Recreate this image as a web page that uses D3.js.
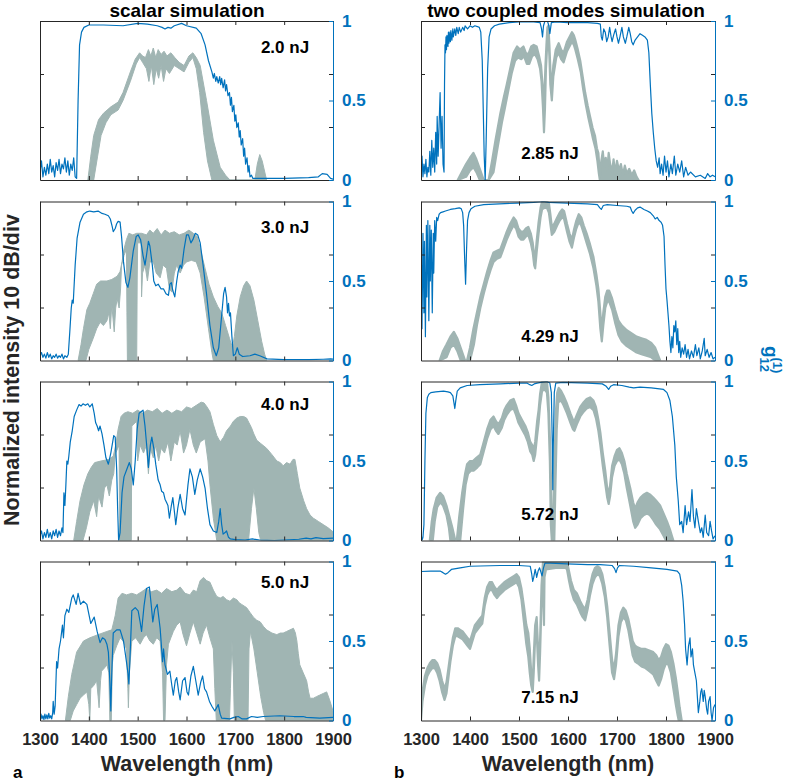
<!DOCTYPE html>
<html><head><meta charset="utf-8">
<script src="https://cdn.jsdelivr.net/npm/d3@7"></script>
<style>body{margin:0;background:#fff}svg{display:block}text{font-family:"Liberation Sans",Arial,sans-serif;font-weight:bold}</style>
</head><body><svg id="c" width="787" height="783"></svg>
<script>
// ---------- data (wavelength nm, normalized value 0..1) ----------
const xTicks = [1300,1400,1500,1600,1700,1800,1900];
const rightTicks = [0,0.5,1];
const leftTicks = [1/3,2/3];
const columnTitles = ["scalar simulation","two coupled modes simulation"];
const energyLabels = ["2.0 nJ","3.0 nJ","4.0 nJ","5.0 nJ","2.85 nJ","4.29 nJ","5.72 nJ","7.15 nJ"];

const sc20Blue = [[1300,0.05],[1303,0.12],[1306,0.02],[1309,0.08],[1312,0.03],[1315,0.1],[1318,0.04],[1321,0.13],[1324,0.05],[1327,0.09],[1330,0.02],[1333,0.11],[1336,0.06],[1339,0.13],[1342,0.04],[1345,0.1],[1348,0.07],[1351,0.14],[1354,0.05],[1357,0.12],[1360,0.03],[1363,0.1],[1366,0.06],[1369,0.14],[1372,0.02],[1375,0.01],[1378,0.5],[1381,0.85],[1385,0.93],[1390,0.96],[1400,0.975],[1430,0.975],[1470,0.97],[1500,0.985],[1520,0.98],[1540,0.97],[1550,0.96],[1556,0.95],[1562,0.96],[1568,0.955],[1575,0.97],[1590,0.985],[1600,0.97],[1620,0.955],[1630,0.92],[1638,0.85],[1645,0.75],[1652,0.68],[1655,0.64],[1657,0.67],[1660,0.62],[1662,0.65],[1665,0.61],[1668,0.65],[1670,0.6],[1672,0.64],[1675,0.58],[1678,0.63],[1680,0.56],[1682,0.6],[1685,0.53],[1688,0.55],[1690,0.47],[1692,0.52],[1694,0.43],[1697,0.47],[1699,0.37],[1701,0.41],[1703,0.33],[1706,0.36],[1708,0.27],[1710,0.31],[1712,0.22],[1715,0.26],[1717,0.15],[1719,0.2],[1721,0.1],[1724,0.14],[1726,0.05],[1728,0.09],[1730,0.02],[1733,0.03],[1736,0.01],[1760,0.01],[1800,0.01],[1850,0.015],[1870,0.02],[1878,0.04],[1888,0.035],[1895,0.01],[1900,0.005]];
const sc20Hi = [[1398,0],[1404,0.15],[1410,0.28],[1420,0.38],[1430,0.42],[1445,0.46],[1460,0.49],[1470,0.55],[1485,0.68],[1495,0.76],[1504,0.8],[1510,0.78],[1516,0.77],[1522,0.82],[1527,0.78],[1532,0.83],[1537,0.77],[1542,0.82],[1548,0.79],[1554,0.81],[1560,0.78],[1568,0.8],[1576,0.77],[1585,0.74],[1595,0.72],[1605,0.78],[1613,0.8],[1620,0.77],[1628,0.72],[1641,0.5],[1655,0.25],[1669,0.08],[1680,0.03],[1689,0],[1740,0],[1745,0.1],[1750,0.16],[1755,0.12],[1764,0]];
const sc20Lo = [[1398,0],[1410,0],[1418,0.15],[1425,0.28],[1435,0.36],[1445,0.41],[1460,0.44],[1470,0.5],[1485,0.62],[1497,0.73],[1504,0.77],[1510,0.74],[1518,0.7],[1523,0.62],[1528,0.72],[1533,0.6],[1538,0.7],[1543,0.64],[1548,0.72],[1553,0.62],[1558,0.7],[1565,0.67],[1575,0.72],[1585,0.7],[1595,0.68],[1605,0.74],[1613,0.77],[1620,0.7],[1627,0.55],[1635,0.3],[1643,0.12],[1652,0],[1764,0]];

const sc30Blue = [[1300,0.03],[1303,0.05],[1306,0.02],[1309,0.04],[1312,0.015],[1315,0.05],[1318,0.02],[1321,0.04],[1324,0.01],[1327,0.03],[1330,0.02],[1333,0.04],[1336,0.015],[1339,0.03],[1342,0.02],[1345,0.04],[1348,0.01],[1351,0.03],[1355,0.02],[1358,0.04],[1361,0.18],[1364,0.33],[1366,0.38],[1368,0.36],[1372,0.6],[1376,0.77],[1382,0.87],[1389,0.92],[1396,0.935],[1402,0.94],[1410,0.935],[1419,0.94],[1427,0.925],[1433,0.92],[1440,0.91],[1444,0.89],[1448,0.84],[1450,0.81],[1454,0.83],[1457,0.86],[1460,0.875],[1464,0.87],[1467,0.78],[1471,0.62],[1476,0.49],[1480,0.46],[1484,0.52],[1491,0.69],[1497,0.78],[1501,0.79],[1506,0.76],[1511,0.66],[1515,0.6],[1518,0.66],[1522,0.75],[1525,0.72],[1530,0.6],[1533,0.5],[1537,0.47],[1542,0.48],[1548,0.45],[1553,0.45],[1558,0.42],[1563,0.41],[1566,0.48],[1569,0.49],[1572,0.44],[1576,0.4],[1580,0.5],[1583,0.56],[1587,0.6],[1590,0.58],[1595,0.7],[1600,0.79],[1604,0.79],[1609,0.74],[1613,0.76],[1618,0.8],[1623,0.79],[1628,0.74],[1634,0.6],[1641,0.42],[1648,0.22],[1655,0.08],[1661,0.03],[1666,0.08],[1671,0.25],[1676,0.42],[1679,0.46],[1682,0.4],[1684,0.3],[1686,0.36],[1688,0.28],[1690,0.3],[1693,0.15],[1696,0.03],[1700,0.04],[1704,0.08],[1708,0.04],[1715,0.025],[1730,0.03],[1740,0.04],[1750,0.03],[1765,0.01],[1800,0.005],[1850,0.005],[1880,0.008],[1895,0.01],[1900,0.008]];
const sc30Hi = [[1378,0],[1384,0.1],[1389,0.2],[1396,0.32],[1402,0.36],[1409,0.42],[1416,0.48],[1424,0.5],[1437,0.5],[1447,0.51],[1458,0.53],[1464,0.56],[1468,0.62],[1472,0.7],[1477,0.76],[1482,0.8],[1490,0.79],[1498,0.8],[1508,0.8],[1518,0.79],[1525,0.82],[1532,0.8],[1540,0.83],[1548,0.79],[1556,0.82],[1565,0.8],[1575,0.81],[1585,0.79],[1595,0.8],[1605,0.82],[1614,0.8],[1622,0.78],[1630,0.68],[1638,0.58],[1646,0.48],[1655,0.4],[1664,0.34],[1672,0.3],[1680,0.22],[1688,0.14],[1694,0.08],[1698,0.15],[1703,0.28],[1710,0.4],[1717,0.47],[1723,0.5],[1730,0.47],[1738,0.38],[1746,0.25],[1754,0.12],[1760,0.04],[1764,0]];
const sc30Lo = [[1378,0],[1394,0],[1400,0.07],[1409,0.14],[1416,0.2],[1423,0.24],[1430,0.22],[1437,0.25],[1441,0.3],[1444,0.2],[1447,0.35],[1452,0.18],[1455,0.33],[1458,0.39],[1462,0.33],[1465,0.45],[1467,0.6],[1472,0.66],[1477,0.7],[1478,0.3],[1479,0],[1498,0],[1499,0.5],[1500,0.74],[1507,0.74],[1508,0.4],[1510,0.55],[1515,0.6],[1520,0.5],[1525,0.62],[1532,0.62],[1538,0.55],[1546,0.52],[1552,0.6],[1559,0.58],[1565,0.45],[1570,0.43],[1575,0.55],[1580,0.6],[1587,0.55],[1594,0.6],[1600,0.62],[1610,0.63],[1620,0.62],[1628,0.55],[1636,0.4],[1645,0.2],[1652,0.05],[1655,0],[1764,0]];

const sc40Blue = [[1300,0.03],[1303,0.06],[1306,0.01],[1309,0.05],[1312,0.02],[1315,0.07],[1318,0.02],[1321,0.05],[1324,0.01],[1327,0.06],[1330,0.03],[1333,0.07],[1336,0.02],[1339,0.06],[1342,0.03],[1345,0.08],[1347,0.05],[1349,0.3],[1351,0.22],[1353,0.35],[1355,0.5],[1357,0.48],[1359,0.53],[1362,0.62],[1366,0.69],[1370,0.78],[1375,0.82],[1380,0.855],[1384,0.845],[1388,0.86],[1393,0.85],[1398,0.86],[1402,0.84],[1407,0.86],[1411,0.8],[1414,0.74],[1417,0.72],[1420,0.69],[1423,0.72],[1427,0.67],[1431,0.6],[1435,0.52],[1440,0.48],[1445,0.55],[1451,0.66],[1454,0.65],[1457,0.45],[1459,0.2],[1461,0],[1464,0.05],[1468,0.3],[1472,0.4],[1478,0.45],[1483,0.49],[1487,0.45],[1491,0.35],[1495,0.5],[1499,0.7],[1503,0.8],[1507,0.81],[1511,0.82],[1515,0.72],[1519,0.58],[1522,0.46],[1526,0.6],[1529,0.65],[1533,0.58],[1537,0.48],[1542,0.38],[1546,0.35],[1549,0.31],[1553,0.3],[1556,0.26],[1559,0.24],[1562,0.22],[1565,0.14],[1569,0.22],[1572,0.27],[1576,0.16],[1578,0.1],[1582,0.2],[1587,0.29],[1592,0.2],[1597,0.16],[1603,0.35],[1607,0.45],[1612,0.4],[1617,0.29],[1622,0.38],[1628,0.45],[1633,0.4],[1638,0.33],[1643,0.2],[1648,0.1],[1655,0.06],[1662,0.05],[1666,0.12],[1669,0.2],[1672,0.1],[1675,0.04],[1679,0.05],[1682,0.06],[1686,0.02],[1690,0.01],[1700,0.005],[1720,0.003],[1735,0.01],[1750,0.002],[1780,0],[1830,0.008],[1845,0.015],[1855,0.01],[1865,0.018],[1880,0.012],[1900,0.015]];
const sc40Hi = [[1369,0],[1375,0.12],[1382,0.25],[1390,0.35],[1398,0.42],[1405,0.46],[1412,0.49],[1425,0.5],[1440,0.51],[1450,0.53],[1455,0.6],[1460,0.7],[1466,0.78],[1472,0.8],[1480,0.81],[1490,0.8],[1500,0.82],[1510,0.8],[1520,0.82],[1530,0.81],[1540,0.83],[1550,0.8],[1560,0.82],[1570,0.8],[1580,0.82],[1590,0.81],[1600,0.84],[1610,0.83],[1620,0.85],[1630,0.87],[1636,0.865],[1642,0.84],[1648,0.81],[1655,0.73],[1662,0.66],[1669,0.62],[1676,0.65],[1682,0.69],[1690,0.72],[1696,0.75],[1703,0.77],[1710,0.78],[1717,0.78],[1723,0.77],[1728,0.74],[1733,0.71],[1738,0.67],[1744,0.63],[1752,0.61],[1764,0.58],[1775,0.54],[1785,0.5],[1792,0.49],[1798,0.47],[1805,0.49],[1812,0.48],[1818,0.51],[1822,0.51],[1827,0.42],[1832,0.33],[1840,0.25],[1846,0.2],[1853,0.16],[1860,0.14],[1870,0.12],[1880,0.1],[1890,0.08],[1900,0.055]];
const sc40Lo = [[1369,0],[1388,0],[1395,0.08],[1402,0.18],[1410,0.25],[1416,0.15],[1420,0.28],[1427,0.21],[1432,0.33],[1437,0.35],[1442,0.28],[1447,0.38],[1451,0.42],[1453,0.5],[1455,0.55],[1462,0.6],[1463,0],[1487,0],[1488,0.72],[1498,0.75],[1500,0.5],[1505,0.6],[1512,0.55],[1518,0.6],[1522,0.42],[1526,0.58],[1532,0.52],[1537,0.6],[1543,0.5],[1548,0.58],[1555,0.55],[1562,0.62],[1568,0.5],[1575,0.62],[1581,0.6],[1587,0.69],[1594,0.55],[1600,0.6],[1607,0.7],[1614,0.6],[1620,0.55],[1628,0.62],[1638,0.64],[1644,0.5],[1648,0.35],[1655,0.14],[1662,0],[1727,0],[1733,0.2],[1738,0.33],[1743,0.2],[1748,0.05],[1752,0],[1900,0]];

const sc50Blue = [[1300,0.02],[1302,0.04],[1304,0.01],[1306,0.03],[1308,0.005],[1310,0.04],[1312,0.01],[1314,0.035],[1316,0.01],[1318,0.045],[1320,0.015],[1322,0.03],[1324,0.01],[1326,0.05],[1327,0.12],[1329,0.04],[1331,0.09],[1334,0.37],[1336,0.33],[1339,0.45],[1342,0.5],[1346,0.6],[1348,0.52],[1351,0.66],[1355,0.7],[1359,0.68],[1365,0.77],[1368,0.79],[1374,0.73],[1378,0.8],[1383,0.73],[1389,0.75],[1396,0.73],[1404,0.61],[1411,0.65],[1417,0.56],[1423,0.49],[1428,0.52],[1433,0.51],[1437,0.48],[1440,0.43],[1443,0.25],[1445,0.06],[1447,0.3],[1450,0.55],[1457,0.57],[1464,0.57],[1471,0.5],[1477,0.37],[1480,0.3],[1482,0.23],[1485,0.45],[1488,0.69],[1495,0.71],[1501,0.69],[1505,0.62],[1508,0.56],[1513,0.72],[1518,0.83],[1524,0.84],[1528,0.72],[1531,0.62],[1535,0.7],[1540,0.73],[1546,0.58],[1551,0.37],[1553,0.45],[1556,0.35],[1561,0.29],[1566,0.31],[1570,0.22],[1573,0.16],[1577,0.25],[1580,0.27],[1584,0.18],[1587,0.13],[1592,0.25],[1597,0.27],[1601,0.18],[1604,0.16],[1609,0.28],[1614,0.34],[1619,0.25],[1624,0.16],[1629,0.24],[1633,0.28],[1637,0.2],[1641,0.18],[1647,0.12],[1652,0.09],[1658,0.06],[1665,0.1],[1669,0.04],[1672,0.015],[1689,0.01],[1697,0.02],[1706,0.025],[1714,0.01],[1723,0.01],[1733,0.025],[1745,0.02],[1757,0.025],[1791,0.03],[1820,0.025],[1839,0.025],[1845,0.02],[1873,0.015],[1900,0.02]];
const sc50Hi = [[1352,0],[1358,0.15],[1365,0.29],[1375,0.43],[1389,0.5],[1402,0.52],[1419,0.54],[1437,0.56],[1447,0.57],[1451,0.62],[1454,0.66],[1460,0.77],[1468,0.8],[1477,0.79],[1488,0.8],[1498,0.79],[1508,0.81],[1518,0.83],[1528,0.81],[1539,0.82],[1549,0.8],[1559,0.83],[1570,0.81],[1580,0.82],[1587,0.84],[1597,0.8],[1607,0.79],[1614,0.82],[1621,0.81],[1628,0.88],[1635,0.9],[1641,0.88],[1648,0.87],[1655,0.82],[1662,0.78],[1669,0.77],[1675,0.78],[1682,0.76],[1689,0.75],[1696,0.77],[1703,0.76],[1708,0.74],[1713,0.73],[1718,0.72],[1723,0.71],[1730,0.68],[1737,0.65],[1744,0.63],[1751,0.62],[1758,0.59],[1764,0.57],[1775,0.55],[1785,0.54],[1792,0.55],[1798,0.55],[1805,0.56],[1812,0.57],[1819,0.58],[1823,0.55],[1826,0.5],[1829,0.42],[1832,0.35],[1839,0.3],[1846,0.25],[1850,0.18],[1853,0.14],[1860,0.14],[1866,0.15],[1873,0.16],[1880,0.17],[1887,0.18],[1893,0.13],[1900,0.06]];
const sc50Lo = [[1352,0],[1362,0],[1368,0.06],[1375,0.1],[1382,0.14],[1389,0.16],[1396,0.18],[1400,0.1],[1402,0],[1404,0.2],[1410,0.22],[1416,0.25],[1419,0.15],[1421,0.08],[1424,0.25],[1426,0.31],[1432,0.33],[1437,0.35],[1441,0.3],[1443,0],[1446,0],[1448,0.35],[1450,0.41],[1457,0.47],[1464,0.52],[1470,0.5],[1477,0.45],[1480,0.2],[1481,0.08],[1483,0.3],[1488,0.5],[1496,0.52],[1505,0.48],[1512,0.52],[1518,0.54],[1525,0.5],[1532,0.48],[1539,0.52],[1546,0.5],[1551,0.3],[1553,0],[1556,0],[1559,0.35],[1563,0.48],[1568,0.52],[1573,0.56],[1580,0.6],[1587,0.62],[1593,0.54],[1600,0.47],[1607,0.55],[1614,0.62],[1621,0.55],[1628,0.48],[1634,0.55],[1641,0.6],[1648,0.52],[1655,0.45],[1658,0.2],[1661,0],[1688,0],[1690,0.2],[1693,0.5],[1696,0.3],[1698,0],[1726,0],[1728,0.45],[1731,0.56],[1738,0.45],[1745,0.3],[1752,0.15],[1758,0.05],[1762,0],[1900,0]];

const cm285Blue = [[1300,0.05],[1302,0.15],[1304,0.02],[1306,0.1],[1308,0.04],[1310,0.13],[1312,0.02],[1314,0.08],[1316,0.05],[1318,0.18],[1320,0.03],[1322,0.25],[1324,0.08],[1326,0.2],[1328,0.05],[1330,0.3],[1332,0.1],[1333,0.4],[1335,0.15],[1337,0.35],[1339,0.55],[1341,0.2],[1343,0.4],[1345,0.1],[1347,0.05],[1348,0.6],[1349,0.85],[1350,0.8],[1351,0.9],[1352,0.82],[1353,0.91],[1355,0.84],[1356,0.93],[1357,0.86],[1359,0.93],[1360,0.87],[1361,0.94],[1363,0.88],[1365,0.95],[1366,0.9],[1369,0.95],[1371,0.91],[1373,0.96],[1376,0.92],[1378,0.96],[1381,0.93],[1385,0.96],[1388,0.94],[1390,0.97],[1395,0.95],[1400,0.97],[1405,0.96],[1410,0.97],[1415,0.965],[1419,0.96],[1422,0.93],[1425,0.75],[1427,0.45],[1429,0.15],[1431,0],[1433,0.25],[1436,0.7],[1439,0.9],[1443,0.95],[1450,0.97],[1460,0.98],[1480,0.99],[1500,0.995],[1530,0.995],[1543,0.99],[1546,0.95],[1548,0.9],[1550,0.97],[1553,1],[1558,1],[1561,0.97],[1563,0.92],[1566,0.99],[1575,0.995],[1600,0.99],[1640,0.99],[1660,0.985],[1666,0.98],[1668,0.9],[1670,0.88],[1673,0.95],[1676,0.93],[1679,0.87],[1682,0.9],[1685,0.96],[1688,0.9],[1690,0.87],[1693,0.91],[1697,0.95],[1700,0.9],[1703,0.86],[1706,0.9],[1710,0.96],[1713,0.9],[1717,0.86],[1720,0.9],[1724,0.96],[1727,0.92],[1730,0.87],[1733,0.85],[1737,0.88],[1742,0.9],[1747,0.92],[1752,0.91],[1757,0.9],[1762,0.88],[1765,0.8],[1768,0.6],[1771,0.42],[1774,0.3],[1777,0.2],[1780,0.12],[1783,0.08],[1786,0.14],[1788,0.04],[1791,0.1],[1794,0.03],[1797,0.15],[1800,0.05],[1803,0.12],[1806,0.02],[1810,0.1],[1813,0.04],[1817,0.15],[1820,0.03],[1824,0.1],[1828,0.05],[1832,0.12],[1836,0.02],[1840,0.08],[1845,0.03],[1850,0.05],[1860,0.02],[1870,0.03],[1880,0.01],[1885,0.04],[1890,0.02],[1895,0.03],[1900,0.02]];
const cm285Hi = [[1375,0],[1385,0.06],[1392,0.1],[1400,0.14],[1407,0.17],[1413,0.13],[1420,0.07],[1428,0],[1438,0],[1445,0.12],[1452,0.25],[1462,0.42],[1469,0.52],[1475,0.6],[1482,0.7],[1489,0.8],[1496,0.84],[1502,0.82],[1509,0.84],[1514,0.8],[1519,0.79],[1525,0.84],[1530,0.85],[1536,0.84],[1541,0.78],[1545,0.72],[1548,0.6],[1550,0.45],[1551,0.36],[1552,0.55],[1554,0.72],[1556,0.85],[1558,0.96],[1560,0.97],[1562,0.85],[1564,0.7],[1567,0.56],[1570,0.72],[1575,0.82],[1581,0.86],[1586,0.82],[1591,0.8],[1598,0.87],[1603,0.9],[1608,0.93],[1612,0.91],[1615,0.88],[1620,0.82],[1625,0.75],[1630,0.65],[1635,0.55],[1640,0.47],[1645,0.4],[1650,0.33],[1655,0.28],[1659,0.2],[1662,0.17],[1664,0.08],[1666,0.03],[1668,0.12],[1671,0.18],[1674,0.08],[1677,0.14],[1680,0.06],[1683,0.17],[1686,0.1],[1690,0.05],[1693,0.13],[1696,0.04],[1700,0.12],[1704,0.06],[1708,0.1],[1712,0.03],[1716,0.09],[1720,0.04],[1725,0.07],[1730,0.03],[1735,0.06],[1740,0.02],[1744,0]];
const cm285Lo = [[1375,0],[1392,0.02],[1400,0.06],[1407,0.08],[1413,0.05],[1420,0],[1438,0],[1448,0.05],[1455,0.18],[1465,0.36],[1471,0.45],[1478,0.56],[1485,0.67],[1492,0.75],[1498,0.77],[1505,0.76],[1510,0.78],[1516,0.73],[1521,0.73],[1527,0.78],[1533,0.79],[1538,0.76],[1543,0.7],[1546,0.62],[1549,0.45],[1551,0.3],[1553,0.45],[1555,0.7],[1558,0.88],[1560,0.9],[1562,0.78],[1564,0.6],[1567,0.5],[1570,0.65],[1576,0.77],[1581,0.8],[1586,0.76],[1591,0.74],[1598,0.81],[1603,0.84],[1608,0.87],[1612,0.85],[1615,0.82],[1620,0.76],[1626,0.68],[1631,0.57],[1636,0.48],[1641,0.4],[1646,0.33],[1651,0.26],[1656,0.2],[1660,0.12],[1663,0.04],[1665,0],[1744,0]];

const cm429Blue = [[1300,0.1],[1301,0.6],[1302,0.2],[1304,0.8],[1306,0.3],[1307,0.75],[1309,0.15],[1311,0.85],[1312,0.4],[1314,0.88],[1316,0.25],[1318,0.85],[1319,0.5],[1321,0.82],[1323,0.3],[1325,0.8],[1326,0.55],[1328,0.88],[1330,0.75],[1332,0.9],[1334,0.88],[1337,0.92],[1340,0.93],[1345,0.935],[1350,0.94],[1360,0.95],[1370,0.955],[1378,0.96],[1382,0.955],[1385,0.93],[1387,0.85],[1389,0.65],[1391,0.48],[1393,0.7],[1395,0.88],[1398,0.93],[1402,0.955],[1410,0.97],[1428,0.98],[1460,0.985],[1496,0.99],[1530,0.995],[1550,1],[1560,0.995],[1598,0.99],[1640,0.985],[1660,0.98],[1665,0.96],[1668,0.95],[1672,0.975],[1680,0.98],[1700,0.975],[1720,0.97],[1727,0.965],[1730,0.94],[1733,0.925],[1737,0.945],[1742,0.96],[1747,0.965],[1755,0.95],[1762,0.94],[1768,0.93],[1774,0.91],[1778,0.89],[1782,0.9],[1786,0.88],[1790,0.87],[1793,0.85],[1796,0.78],[1798,0.6],[1800,0.45],[1802,0.38],[1804,0.3],[1806,0.22],[1808,0.12],[1810,0.05],[1812,0.15],[1814,0.08],[1816,0.22],[1818,0.18],[1820,0.25],[1822,0.1],[1824,0.2],[1826,0.05],[1828,0.12],[1830,0.02],[1833,0.08],[1836,0.04],[1839,0.1],[1842,0.02],[1845,0.07],[1848,0.01],[1852,0.06],[1856,0.02],[1860,0.1],[1863,0.03],[1867,0.08],[1870,0.01],[1874,0.06],[1878,0.14],[1880,0.03],[1884,0.07],[1888,0.02],[1892,0.05],[1896,0.01],[1900,0.02]];
const cm429Hi = [[1338,0],[1345,0.06],[1352,0.1],[1360,0.15],[1367,0.18],[1374,0.14],[1381,0.08],[1390,0],[1394,0],[1400,0.08],[1407,0.2],[1414,0.3],[1421,0.4],[1428,0.48],[1435,0.56],[1442,0.63],[1448,0.68],[1455,0.69],[1462,0.7],[1468,0.75],[1475,0.81],[1482,0.86],[1489,0.9],[1494,0.88],[1499,0.83],[1504,0.81],[1509,0.81],[1514,0.83],[1519,0.84],[1524,0.8],[1528,0.74],[1531,0.66],[1533,0.64],[1536,0.75],[1540,0.87],[1544,0.96],[1547,1],[1552,1],[1557,1],[1561,0.99],[1564,0.92],[1567,0.84],[1572,0.86],[1578,0.9],[1583,0.93],[1588,0.95],[1592,0.94],[1598,0.86],[1603,0.8],[1608,0.76],[1612,0.82],[1617,0.88],[1622,0.92],[1627,0.9],[1632,0.85],[1638,0.8],[1645,0.73],[1652,0.65],[1658,0.54],[1662,0.45],[1666,0.3],[1669,0.18],[1672,0.3],[1676,0.4],[1680,0.44],[1684,0.44],[1690,0.39],[1696,0.32],[1703,0.25],[1710,0.22],[1720,0.19],[1730,0.17],[1740,0.15],[1750,0.14],[1760,0.13],[1770,0.11],[1778,0.08],[1783,0.04],[1788,0]];
const cm429Lo = [[1338,0],[1352,0.02],[1360,0.08],[1367,0.1],[1374,0.06],[1381,0],[1394,0],[1400,0],[1408,0.1],[1414,0.22],[1421,0.33],[1428,0.42],[1435,0.5],[1442,0.57],[1448,0.62],[1455,0.64],[1462,0.65],[1468,0.7],[1475,0.76],[1482,0.81],[1489,0.85],[1494,0.83],[1499,0.78],[1504,0.76],[1509,0.76],[1514,0.78],[1519,0.79],[1524,0.74],[1528,0.68],[1531,0.6],[1533,0.58],[1536,0.68],[1540,0.8],[1544,0.9],[1547,0.95],[1552,0.96],[1557,0.96],[1561,0.93],[1564,0.86],[1567,0.79],[1572,0.81],[1578,0.85],[1583,0.88],[1588,0.9],[1592,0.89],[1598,0.81],[1603,0.75],[1608,0.71],[1612,0.77],[1617,0.83],[1622,0.87],[1627,0.85],[1632,0.8],[1638,0.74],[1645,0.67],[1652,0.58],[1658,0.47],[1662,0.37],[1666,0.2],[1669,0.12],[1672,0.22],[1676,0.33],[1680,0.37],[1684,0.37],[1690,0.32],[1696,0.24],[1703,0.16],[1710,0.12],[1720,0.09],[1730,0.07],[1740,0.05],[1750,0.04],[1760,0.03],[1770,0.02],[1778,0],[1788,0]];

const cm572Blue = [[1300,0.05],[1302,0],[1304,0.02],[1306,0.1],[1308,0.5],[1310,0.8],[1313,0.9],[1316,0.92],[1320,0.93],[1330,0.935],[1346,0.94],[1355,0.935],[1360,0.93],[1365,0.91],[1367,0.87],[1369,0.83],[1371,0.88],[1374,0.94],[1380,0.96],[1394,0.975],[1420,0.98],[1462,0.985],[1500,0.99],[1516,0.99],[1522,0.98],[1526,0.975],[1531,0.985],[1537,0.99],[1545,0.995],[1557,1],[1563,0.99],[1566,0.93],[1568,0.6],[1569,0.32],[1570,0.6],[1572,0.93],[1575,0.99],[1590,0.995],[1640,0.99],[1670,0.985],[1678,0.97],[1683,0.95],[1687,0.97],[1693,0.98],[1710,0.975],[1725,0.965],[1734,0.96],[1747,0.965],[1770,0.96],[1795,0.95],[1802,0.93],[1808,0.88],[1813,0.78],[1818,0.6],[1821,0.4],[1825,0.25],[1828,0.1],[1832,0.12],[1835,0.05],[1839,0.22],[1842,0.1],[1846,0.18],[1849,0.12],[1853,0.32],[1856,0.15],[1859,0.08],[1862,0.2],[1866,0.12],[1870,0.05],[1873,0.08],[1876,0.02],[1880,0.16],[1883,0.05],[1887,0.03],[1890,0.12],[1893,0.06],[1896,0.01],[1900,0.03]];
const cm572Hi = [[1318,0],[1322,0.12],[1326,0.2],[1332,0.27],[1339,0.3],[1345,0.28],[1352,0.22],[1358,0.15],[1364,0.08],[1370,0],[1373,0],[1378,0.15],[1384,0.3],[1390,0.42],[1394,0.48],[1400,0.5],[1406,0.5],[1413,0.52],[1421,0.54],[1428,0.62],[1435,0.7],[1442,0.76],[1448,0.78],[1453,0.75],[1458,0.73],[1465,0.77],[1470,0.82],[1475,0.85],[1482,0.88],[1489,0.89],[1494,0.85],[1499,0.8],[1506,0.76],[1513,0.72],[1518,0.68],[1523,0.62],[1527,0.6],[1530,0.57],[1533,0.62],[1537,0.75],[1540,0.82],[1543,0.92],[1547,1],[1552,1],[1557,1],[1560,0.9],[1563,0.65],[1566,0.3],[1568,0],[1570,0],[1572,0.4],[1575,0.8],[1578,0.93],[1581,0.96],[1586,0.94],[1591,0.91],[1598,0.86],[1605,0.8],[1610,0.76],[1613,0.75],[1618,0.79],[1625,0.84],[1632,0.87],[1638,0.89],[1645,0.9],[1652,0.88],[1657,0.84],[1662,0.76],[1666,0.68],[1671,0.55],[1676,0.44],[1680,0.33],[1683,0.29],[1686,0.35],[1690,0.47],[1695,0.53],[1700,0.57],[1705,0.58],[1710,0.55],[1715,0.5],[1720,0.42],[1727,0.33],[1733,0.24],[1737,0.2],[1742,0.24],[1748,0.27],[1755,0.29],[1761,0.3],[1767,0.29],[1774,0.27],[1780,0.25],[1788,0.22],[1795,0.17],[1802,0.12],[1808,0.07],[1812,0.03],[1815,0]];
const cm572Lo = [[1318,0],[1324,0],[1328,0.12],[1333,0.21],[1339,0.24],[1345,0.22],[1352,0.16],[1357,0.08],[1360,0],[1373,0],[1380,0],[1386,0.2],[1391,0.35],[1396,0.42],[1402,0.44],[1408,0.44],[1415,0.46],[1421,0.48],[1428,0.56],[1435,0.64],[1442,0.7],[1448,0.72],[1453,0.69],[1458,0.67],[1465,0.71],[1470,0.76],[1475,0.79],[1482,0.82],[1489,0.83],[1494,0.79],[1499,0.74],[1506,0.7],[1513,0.66],[1518,0.62],[1523,0.56],[1527,0.54],[1530,0.5],[1533,0.54],[1537,0.66],[1540,0.74],[1543,0.85],[1547,0.94],[1552,0.95],[1557,0.93],[1560,0.8],[1563,0.5],[1565,0.1],[1567,0],[1572,0],[1574,0.3],[1577,0.7],[1580,0.87],[1586,0.88],[1591,0.85],[1598,0.8],[1605,0.74],[1610,0.7],[1613,0.69],[1618,0.73],[1625,0.78],[1632,0.81],[1638,0.83],[1645,0.84],[1652,0.82],[1657,0.77],[1662,0.69],[1666,0.6],[1671,0.47],[1676,0.36],[1680,0.27],[1683,0.23],[1686,0.28],[1690,0.4],[1695,0.47],[1700,0.5],[1705,0.51],[1710,0.48],[1715,0.42],[1720,0.33],[1727,0.22],[1733,0.12],[1737,0.08],[1742,0.1],[1748,0.14],[1755,0.16],[1761,0.17],[1767,0.16],[1774,0.13],[1780,0.1],[1788,0.07],[1795,0.03],[1800,0],[1815,0]];

const cm715Blue = [[1300,0.937],[1320,0.94],[1339,0.94],[1345,0.93],[1350,0.92],[1355,0.93],[1362,0.95],[1380,0.96],[1400,0.97],[1462,0.975],[1500,0.975],[1523,0.97],[1526,0.92],[1528,0.875],[1530,0.9],[1533,0.95],[1535,0.92],[1536,0.9],[1539,0.94],[1542,0.96],[1545,0.93],[1547,0.91],[1550,0.96],[1553,0.99],[1564,0.99],[1598,0.985],[1640,0.98],[1666,0.98],[1690,0.975],[1695,0.955],[1698,0.93],[1701,0.96],[1705,0.975],[1734,0.97],[1770,0.96],[1802,0.95],[1823,0.94],[1828,0.92],[1832,0.85],[1835,0.75],[1838,0.6],[1840,0.45],[1843,0.35],[1846,0.47],[1849,0.52],[1851,0.4],[1854,0.45],[1856,0.35],[1859,0.3],[1862,0.25],[1864,0.15],[1866,0.05],[1869,0.12],[1871,0.18],[1873,0.2],[1876,0.12],[1878,0.19],[1880,0.15],[1883,0.07],[1885,0.04],[1887,0.12],[1890,0.15],[1892,0.05],[1894,0],[1897,0.08],[1900,0.1]];
const cm715Hi = [[1300,0.1],[1304,0.2],[1308,0.28],[1313,0.33],[1318,0.36],[1323,0.38],[1328,0.38],[1333,0.36],[1338,0.32],[1343,0.25],[1348,0.2],[1352,0.24],[1356,0.33],[1360,0.42],[1365,0.52],[1370,0.58],[1375,0.58],[1380,0.57],[1385,0.56],[1390,0.54],[1395,0.52],[1400,0.5],[1405,0.55],[1410,0.6],[1415,0.62],[1420,0.64],[1425,0.66],[1430,0.77],[1435,0.84],[1440,0.87],[1445,0.87],[1450,0.84],[1455,0.82],[1460,0.84],[1470,0.87],[1480,0.89],[1490,0.91],[1495,0.92],[1500,0.9],[1505,0.83],[1510,0.72],[1515,0.6],[1519,0.55],[1522,0.45],[1525,0.3],[1528,0.24],[1530,0.4],[1533,0.6],[1536,0.65],[1539,0.45],[1541,0.3],[1543,0.5],[1546,0.85],[1549,1],[1560,1],[1575,1],[1590,1],[1598,1],[1602,0.94],[1606,0.88],[1612,0.82],[1618,0.8],[1625,0.75],[1630,0.72],[1635,0.7],[1640,0.76],[1645,0.85],[1650,0.92],[1655,0.96],[1660,0.97],[1665,0.96],[1670,0.92],[1675,0.84],[1680,0.72],[1685,0.55],[1690,0.38],[1694,0.32],[1698,0.42],[1703,0.6],[1708,0.68],[1713,0.71],[1718,0.69],[1723,0.64],[1727,0.58],[1732,0.5],[1737,0.47],[1742,0.46],[1750,0.45],[1758,0.45],[1766,0.44],[1774,0.43],[1780,0.41],[1785,0.38],[1790,0.4],[1795,0.45],[1800,0.48],[1805,0.47],[1810,0.43],[1815,0.36],[1820,0.27],[1824,0.18],[1828,0.08],[1832,0]];
const cm715Lo = [[1300,0],[1303,0.12],[1308,0.22],[1313,0.28],[1318,0.31],[1323,0.33],[1328,0.33],[1333,0.3],[1338,0.25],[1343,0.18],[1348,0.13],[1352,0.17],[1356,0.27],[1360,0.37],[1365,0.47],[1370,0.53],[1375,0.53],[1380,0.52],[1385,0.51],[1390,0.49],[1395,0.47],[1400,0.45],[1405,0.5],[1410,0.55],[1415,0.57],[1420,0.59],[1425,0.61],[1430,0.72],[1435,0.79],[1440,0.82],[1445,0.82],[1450,0.79],[1455,0.77],[1460,0.79],[1470,0.82],[1480,0.84],[1490,0.86],[1495,0.87],[1500,0.84],[1505,0.76],[1510,0.62],[1515,0.48],[1519,0.4],[1522,0.3],[1525,0.22],[1528,0.18],[1530,0.3],[1533,0.52],[1536,0.56],[1539,0.35],[1541,0.25],[1543,0.42],[1546,0.75],[1549,0.9],[1550,0.75],[1551,0.6],[1552,0.9],[1555,0.95],[1575,0.96],[1595,0.96],[1598,0.95],[1602,0.88],[1606,0.82],[1612,0.76],[1618,0.73],[1625,0.68],[1630,0.65],[1635,0.63],[1640,0.7],[1645,0.79],[1650,0.86],[1655,0.9],[1660,0.92],[1665,0.91],[1670,0.86],[1675,0.78],[1680,0.65],[1685,0.47],[1690,0.3],[1694,0.26],[1698,0.35],[1703,0.53],[1708,0.62],[1713,0.65],[1718,0.63],[1723,0.57],[1727,0.5],[1732,0.41],[1737,0.37],[1742,0.36],[1750,0.34],[1758,0.33],[1766,0.31],[1774,0.29],[1780,0.25],[1785,0.22],[1790,0.26],[1795,0.32],[1800,0.36],[1805,0.35],[1810,0.3],[1815,0.2],[1820,0.1],[1824,0.03],[1826,0],[1832,0]];

// ---------- layout ----------
const BLUE = "#0072BD", GRAY = "rgb(160,181,179)", DARK = "#262626";
const FONT = '"Liberation Sans", Arial, sans-serif';
const colX = [40, 421], colW = [293, 294];
const rowTop = [21, 201.5, 381.5, 561.5], PH = 159;
const labelPos = [[285,32],[285,31.5],[285,28.5],[285,26.5],[550,138],[550,140],[550,138.5],[550,141]];
const bandStroke = [1, 1, 1, 1, 2.2, 2.2, 2.2, 2.2];

const panels = [
  [sc20Blue, sc20Hi, sc20Lo], [sc30Blue, sc30Hi, sc30Lo], [sc40Blue, sc40Hi, sc40Lo], [sc50Blue, sc50Hi, sc50Lo],
  [cm285Blue, cm285Hi, cm285Lo], [cm429Blue, cm429Hi, cm429Lo], [cm572Blue, cm572Hi, cm572Lo], [cm715Blue, cm715Hi, cm715Lo]
];

const svg = d3.select("#c");
const defs = svg.append("defs");

panels.forEach((p, i) => {
  const col = Math.floor(i / 4), row = i % 4;
  const x0 = colX[col], w = colW[col], y0 = rowTop[row];
  const x = d3.scaleLinear().domain([1300, 1900]).range([x0, x0 + w]);
  const y = d3.scaleLinear().domain([0, 1]).range([y0 + PH, y0]);
  const g = svg.append("g");
  const cid = "clip" + i;
  defs.append("clipPath").attr("id", cid).append("rect")
    .attr("x", x0).attr("y", y0).attr("width", w).attr("height", PH);
  const plot = g.append("g").attr("clip-path", `url(#${cid})`);
  const line = d3.line().x(d => x(d[0])).y(d => y(d[1]));
  const poly = p[1].concat(p[2].slice().reverse());
  plot.append("path").attr("d", line(poly) + "Z").attr("fill", GRAY)
    .attr("stroke", GRAY).attr("stroke-width", bandStroke[i]).attr("stroke-linejoin", "round");
  plot.append("path").attr("d", line(p[0])).attr("fill", "none").attr("stroke", BLUE)
    .attr("stroke-width", 1.2).attr("stroke-linejoin", "round");

  const style = (sel, color) => {
    sel.selectAll(".domain").attr("stroke", color).attr("stroke-width", 1);
    sel.selectAll(".tick line").attr("stroke", color);
    sel.selectAll("text").attr("fill", color).style("font-family", FONT).style("font-weight", "bold");
  };
  const ab = g.append("g").attr("transform", `translate(0,${y0 + PH})`)
    .call(d3.axisBottom(x).tickValues(xTicks).tickSize(-4).tickSizeOuter(0).tickPadding(13)
      .tickFormat(row === 3 ? d3.format("d") : () => ""));
  style(ab, DARK); ab.selectAll("text").attr("font-size", 16.5);
  const at = g.append("g").attr("transform", `translate(0,${y0})`)
    .call(d3.axisTop(x).tickValues(xTicks).tickSize(-4).tickSizeOuter(0).tickFormat(() => ""));
  style(at, DARK);
  const al = g.append("g").attr("transform", `translate(${x0},0)`)
    .call(d3.axisLeft(y).tickValues(leftTicks).tickSize(-4).tickSizeOuter(0).tickFormat(() => ""));
  style(al, DARK);
  const am = g.append("g").attr("transform", `translate(${x0 + w},0)`)
    .call(d3.axisRight(y).tickValues(leftTicks).tickSize(-4).tickSizeOuter(0).tickFormat(() => ""));
  style(am, DARK); am.select(".domain").remove();
  const ar = g.append("g").attr("transform", `translate(${x0 + w},0)`)
    .call(d3.axisRight(y).tickValues(rightTicks).tickSize(-4).tickSizeOuter(0).tickPadding(9)
      .tickFormat(d => d === 0.5 ? "0.5" : String(d)));
  style(ar, BLUE); ar.selectAll("text").attr("font-size", 17);

  g.append("text").attr("x", labelPos[i][0]).attr("y", y0 + labelPos[i][1])
    .attr("text-anchor", "middle").attr("font-size", 17).attr("fill", "#000").text(energyLabels[i]);
});

svg.append("text").attr("x", 187).attr("y", 17).attr("text-anchor", "middle").attr("font-size", 19).attr("fill", "#000").text(columnTitles[0]);
svg.append("text").attr("x", 566).attr("y", 17).attr("text-anchor", "middle").attr("font-size", 19).attr("fill", "#000").text(columnTitles[1]);
svg.append("text").attr("x", 187).attr("y", 771).attr("text-anchor", "middle").attr("font-size", 21.5).attr("fill", DARK).text("Wavelength (nm)");
svg.append("text").attr("x", 568).attr("y", 771).attr("text-anchor", "middle").attr("font-size", 21.5).attr("fill", DARK).text("Wavelength (nm)");
svg.append("text").attr("transform", "translate(19,370) rotate(-90)").attr("text-anchor", "middle")
  .attr("font-size", 21.5).attr("fill", DARK).text("Normalized intensity 10 dB/div");
const gl = svg.append("g").attr("transform", "translate(765,346) rotate(90)").attr("fill", BLUE);
gl.append("text").attr("x", 0).attr("y", 0).attr("font-size", 19).text("g");
gl.append("text").attr("x", 11.5).attr("y", 5).attr("font-size", 13).text("12");
gl.append("text").attr("x", 11.5).attr("y", -8).attr("font-size", 13).text("(1)");
svg.append("text").attr("x", 13).attr("y", 778).attr("font-size", 17).attr("fill", "#000").text("a");
svg.append("text").attr("x", 394).attr("y", 778).attr("font-size", 17).attr("fill", "#000").text("b");
</script>
</body></html>
